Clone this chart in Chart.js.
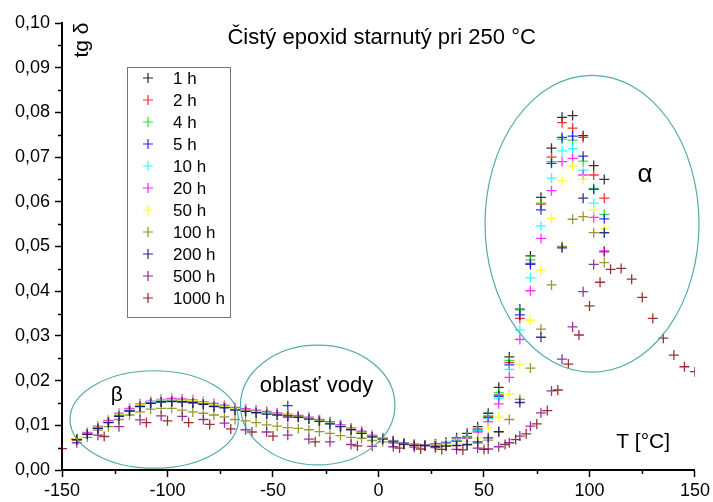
<!DOCTYPE html>
<html>
<head>
<meta charset="utf-8">
<script src="https://cdn.jsdelivr.net/npm/chart.js@4"></script>
<style>
    body { margin: 0; background: #fff; }
    #wrap { width: 713px; height: 502px; }
</style>
</head>
<body>
<div id="wrap"><canvas id="dmaChart" width="713" height="502"></canvas></div>
<script>
// Temperatures [°C] of the measured points (series 1 h ... 500 h)
const tempMain = [-143, -138, -133, -128, -123, -118, -113, -108, -103, -98, -93, -88, -83, -78, -73, -68,
    -63, -58, -53, -48, -43, -38, -33, -28, -23, -18, -13, -8, -3, 2, 7, 12, 17, 22, 27, 32, 37, 42, 47,
    52, 57, 62, 67, 72, 77, 82, 87, 92, 97, 102, 107];

// tg delta values
const tan1h = [.0069, .0082, .0094, .0108, .0122, .0133, .0143, .0150, .0153, .0154, .0153, .0151, .0148, .0143, .0140, .0135,
    .0132, .0129, .0126, .0124, .0122, .0119, .0115, .0110, .0104, .0098, .0091, .0083, .0075, .0070, .0064, .0059, .0056, .0056, .0058, .0062, .0072, .0082, .0097,
    .0127, .0185, .0253, .0360, .0479, .0610, .0720, .0789, .0793, .0748, .0681, .0650];
const tan2h = [.0068, .0081, .0096, .0110, .0124, .0135, .0146, .0153, .0156, .0157, .0156, .0154, .0150, .0146, .0142, .0137,
    .0134, .0131, .0127, .0125, .0118, .0120, .0116, .0111, .0105, .0099, .0092, .0084, .0076, .0071, .0064, .0059, .0056, .0055, .0057, .0060, .0066, .0075, .0092,
    .0120, .0168, .0240, .0339, .0462, .0595, .0700, .0777, .0765, .0744, .0660, .0608];
const tan4h = [.0070, .0082, .0095, .0109, .0123, .0134, .0145, .0152, .0155, .0156, .0155, .0153, .0150, .0145, .0141, .0136,
    .0133, .0131, .0127, .0125, .0124, .0120, .0116, .0111, .0106, .0099, .0092, .0084, .0076, .0071, .0065, .0060, .0057, .0056, .0057, .0060, .0066, .0074, .0091,
    .0121, .0173, .0245, .0358, .0470, .0597, .0690, .0740, .0738, .0691, .0630, .0572];
const tan5h = [.0068, .0081, .0094, .0107, .0121, .0133, .0144, .0151, .0155, .0156, .0156, .0153, .0149, .0145, .0141, .0137,
    .0134, .0131, .0128, .0126, .0144, .0121, .0117, .0112, .0106, .0100, .0092, .0085, .0076, .0071, .0065, .0060, .0057, .0056, .0058, .0061, .0065, .0072, .0088,
    .0117, .0165, .0235, .0347, .0460, .0582, .0686, .0744, .0747, .0702, .0628, .0562];
const tan10h = [.0069, .0082, .0096, .0108, .0123, .0134, .0145, .0152, .0156, .0157, .0157, .0154, .0150, .0146, .0143, .0138,
    .0135, .0132, .0128, .0126, .0124, .0121, .0117, .0112, .0106, .0100, .0093, .0085, .0077, .0072, .0066, .0060, .0057, .0056, .0058, .0061, .0066, .0073, .0088,
    .0115, .0160, .0225, .0313, .0430, .0546, .0653, .0714, .0719, .0671, .0597, .0530];
const tan20h = [.0070, .0084, .0098, .0111, .0127, .0138, .0148, .0154, .0158, .0160, .0159, .0157, .0153, .0149, .0145, .0140,
    .0137, .0134, .0131, .0128, .0125, .0122, .0118, .0113, .0108, .0101, .0094, .0087, .0078, .0072, .0065, .0060, .0057, .0056, .0058, .0060, .0064, .0072, .0085,
    .0108, .0148, .0207, .0292, .0401, .0518, .0625, .0690, .0697, .0660, .0565, .0490];
const tan50h = [.0071, .0082, .0096, .0109, .0125, .0135, .0146, .0153, .0157, .0157, .0156, .0155, .0151, .0146, .0142, .0137,
    .0134, .0131, .0127, .0125, .0123, .0120, .0116, .0111, .0105, .0099, .0092, .0084, .0076, .0071, .0064, .0059, .0056, .0055, .0056, .0058, .0060, .0064, .0072,
    .0095, .0118, .0170, .0237, .0335, .0447, .0563, .0647, .0680, .0650, .0582, .0540];
const tan100h = [.0067, .0073, .0089, .0097, .0113, .0123, .0130, .0136, .0138, .0138, .0134, .0130, .0127, .0123, .0119, .0113,
    .0110, .0106, .0101, .0098, .0095, .0093, .0090, .0086, .0082, .0077, .0073, .0071, .0066, .0063, .0060, .0057, .0055, .0055, .0053, .0053, .0054, .0056, .0060,
    .0067, .0085, .0113, .0158, .0228, .0315, .0414, .0500, .0561, .0567, .0531, .0464];
const tan200h = [.0068, .0080, .0093, .0106, .0120, .0132, .0142, .0149, .0152, .0153, .0152, .0150, .0147, .0142, .0139, .0134,
    .0131, .0128, .0125, .0123, .0121, .0118, .0114, .0109, .0103, .0097, .0090, .0082, .0074, .0069, .0063, .0058, .0055, .0054, .0053, .0054, .0055, .0057, .0063,
    .0072, .0086, null, .0151, null, .0297, null, .0497, null, .0608, null, .0531];
const tan500h = [.0061, null, .0078, null, .0097, null, .0112, null, .0121, null, .0120, null, .0113, null, .0105, null,
    .0090, null, .0085, null, .0078, null, .0069, null, .0063, null, .0057, null, .0053, null, .0052, null, .0051, null, .0050, null, .0046, null, .0049,
    .0047, .0052, .0061, .0076, .0098, .0128, .0177, .0248, .0320, .0399, .0460, .0488];

// 1000 h series was measured on its own temperature grid
const temp1000h = [-150, -130, -110, -100, -90, -80, -70, -60, -50, -30, -10, 10, 20, 30, 40, 50, 60, 65,
    70, 75, 80, 85, 90, 95, 100, 105, 110, 115, 120, 125, 130, 135, 140, 145, 150];
const tan1000h = [.0048, .0075, .0106, .0110, .0106, .0102, .0092, .0085, .0076, .0063, .0054, .0049, .0047, .0046, .0045, .0046, .0057, .0068,
    .0081, .0103, .0133, .0179, .0237, .0302, .0367, .0420, .0449, .0451, .0427, .0386, .0339, .0295, .0257, .0231, .0220];

const seriesLabels = ['1 h', '2 h', '4 h', '5 h', '10 h', '20 h', '50 h', '100 h', '200 h', '500 h', '1000 h'];
const seriesColors = ['#000000', '#ff0000', '#00e000', '#0000ff', '#00ffff', '#ff00ff', '#ffff00', '#808000', '#000080', '#800080', '#800000'];
const seriesValues = [tan1h, tan2h, tan4h, tan5h, tan10h, tan20h, tan50h, tan100h, tan200h, tan500h, tan1000h];
const seriesTemps = [tempMain, tempMain, tempMain, tempMain, tempMain, tempMain, tempMain, tempMain, tempMain, tempMain, temp1000h];

const xTicks = [-150, -100, -50, 0, 50, 100, 150];
const yTicks = [0, 0.01, 0.02, 0.03, 0.04, 0.05, 0.06, 0.07, 0.08, 0.09, 0.10];

const FONT = 'Arial, "Liberation Sans", sans-serif';
const TEAL = '#55aaaa';

// Build scatter points, skipping missing values
function toPoints(temps, values) {
    const pts = [];
    temps.forEach((t, i) => {
        if (values[i] !== null) pts.push({ x: t, y: values[i] });
    });
    return pts;
}

function withAlpha(hex, a) {
    const r = parseInt(hex.slice(1, 3), 16);
    const g = parseInt(hex.slice(3, 5), 16);
    const b = parseInt(hex.slice(5, 7), 16);
    return `rgba(${r}, ${g}, ${b}, ${a})`;
}

// Minor ticks, ellipses, texts and the boxed legend
const decorPlugin = {
    id: 'decor',
    afterDraw(chart) {
        const ctx = chart.ctx;
        const xs = chart.scales.x;
        const ys = chart.scales.y;
        const area = chart.chartArea;

        ctx.save();
        // minor ticks
        ctx.strokeStyle = '#000';
        ctx.lineWidth = 1.5;
        [-125, -75, -25, 25, 75, 125].forEach(v => {
            const px = Math.round(xs.getPixelForValue(v)) + 0.5;
            ctx.beginPath();
            ctx.moveTo(px, area.bottom);
            ctx.lineTo(px, area.bottom + 4);
            ctx.stroke();
        });
        [0.005, 0.015, 0.025, 0.035, 0.045, 0.055, 0.065, 0.075, 0.085, 0.095].forEach(v => {
            const py = Math.round(ys.getPixelForValue(v)) + 0.5;
            ctx.beginPath();
            ctx.moveTo(area.left, py);
            ctx.lineTo(area.left - 4, py);
            ctx.stroke();
        });

        // ellipses around the relaxation regions (centre and radii in data units)
        ctx.strokeStyle = TEAL;
        ctx.lineWidth = 1.2;
        [
            { cx: -106.3, cy: 0.0113, rx: 39.9, ry: 0.0109 },
            { cx: -28.8, cy: 0.01454, rx: 36.6, ry: 0.0134 },
            { cx: 101.2, cy: 0.0551, rx: 50.7, ry: 0.0332 }
        ].forEach(e => {
            const cx = xs.getPixelForValue(e.cx);
            const cy = ys.getPixelForValue(e.cy);
            const rx = xs.getPixelForValue(e.cx + e.rx) - cx;
            const ry = cy - ys.getPixelForValue(e.cy + e.ry);
            ctx.beginPath();
            ctx.ellipse(cx, cy, rx, ry, 0, 0, Math.PI * 2);
            ctx.stroke();
        });

        // texts
        ctx.fillStyle = '#000';
        ctx.textAlign = 'center';
        ctx.textBaseline = 'middle';
        const texts = [
            { t: 'Čistý epoxid starnutý pri 250 °C', x: 1.5, y: 0.0966, size: 22 },
            { t: 'α', x: 126.3, y: 0.0661, size: 26 },
            { t: 'β', x: -124, y: 0.0168, size: 21 },
            { t: 'oblasť vody', x: -29.4, y: 0.0187, size: 22 },
            { t: 'T [°C]', x: 125.4, y: 0.0063, size: 21 }
        ];
        texts.forEach(o => {
            ctx.font = `${o.size}px ${FONT}`;
            ctx.fillText(o.t, xs.getPixelForValue(o.x), ys.getPixelForValue(o.y));
        });

        // rotated y axis title
        ctx.save();
        ctx.translate(xs.getPixelForValue(-140.5), ys.getPixelForValue(0.0962));
        ctx.rotate(-Math.PI / 2);
        ctx.font = `21px ${FONT}`;
        ctx.fillText('tg δ', 0, 0);
        ctx.restore();

        // legend box
        const lx = 127, ly = 67, lw = 103, rowH = 22;
        const lh = rowH * seriesLabels.length + 8;
        ctx.strokeStyle = '#777';
        ctx.lineWidth = 1;
        ctx.fillStyle = '#fff';
        ctx.fillRect(lx + 0.5, ly + 0.5, lw, lh);
        ctx.strokeRect(lx + 0.5, ly + 0.5, lw, lh);
        ctx.textAlign = 'left';
        ctx.font = `17px ${FONT}`;
        seriesLabels.forEach((label, i) => {
            const cy = ly + 11 + i * rowH;
            ctx.strokeStyle = withAlpha(seriesColors[i], 0.85);
            ctx.lineWidth = 1.2;
            ctx.beginPath();
            ctx.moveTo(lx + 16, cy);
            ctx.lineTo(lx + 26, cy);
            ctx.moveTo(lx + 21, cy - 5);
            ctx.lineTo(lx + 21, cy + 5);
            ctx.stroke();
            ctx.fillStyle = '#000';
            ctx.fillText(label, lx + 46, cy + 1);
        });
        ctx.restore();
    }
};

function renderChart() {
    const datasets = seriesLabels.map((label, i) => ({
        label: label,
        data: toPoints(seriesTemps[i], seriesValues[i]),
        showLine: false,
        pointStyle: 'cross',
        pointRadius: 5,
        pointBorderWidth: 1.3,
        borderColor: withAlpha(seriesColors[i], 0.8),
        backgroundColor: withAlpha(seriesColors[i], 0.8),
        order: seriesLabels.length - i
    }));

    const ctx = document.getElementById('dmaChart').getContext('2d');
    new Chart(ctx, {
        type: 'scatter',
        data: { datasets },
        plugins: [decorPlugin],
        options: {
            responsive: false,
            animation: false,
            devicePixelRatio: 1,
            layout: { padding: { top: 23, right: 18, left: 0, bottom: 0 } },
            plugins: {
                legend: { display: false },
                tooltip: { enabled: false }
            },
            scales: {
                x: {
                    type: 'linear',
                    min: -150,
                    max: 150,
                    afterBuildTicks: scale => { scale.ticks = xTicks.map(v => ({ value: v })); },
                    afterFit: scale => { scale.height = 32; },
                    ticks: {
                        color: '#000',
                        font: { family: FONT, size: 18 },
                        padding: 3,
                        maxRotation: 0
                    },
                    grid: { drawOnChartArea: false, drawTicks: true, tickLength: 7, tickColor: '#000', tickWidth: 1.5 },
                    border: { display: true, color: '#000', width: 2 }
                },
                y: {
                    type: 'linear',
                    min: 0,
                    max: 0.1,
                    afterBuildTicks: scale => { scale.ticks = yTicks.map(v => ({ value: v })); },
                    afterFit: scale => { scale.width = 62; },
                    ticks: {
                        color: '#000',
                        font: { family: FONT, size: 18 },
                        padding: 5,
                        callback: v => v.toFixed(2).replace('.', ',')
                    },
                    grid: { drawOnChartArea: false, drawTicks: true, tickLength: 7, tickColor: '#000', tickWidth: 1.5 },
                    border: { display: true, color: '#000', width: 2 }
                }
            }
        }
    });
}

document.addEventListener('DOMContentLoaded', renderChart);
</script>
</body>
</html>
